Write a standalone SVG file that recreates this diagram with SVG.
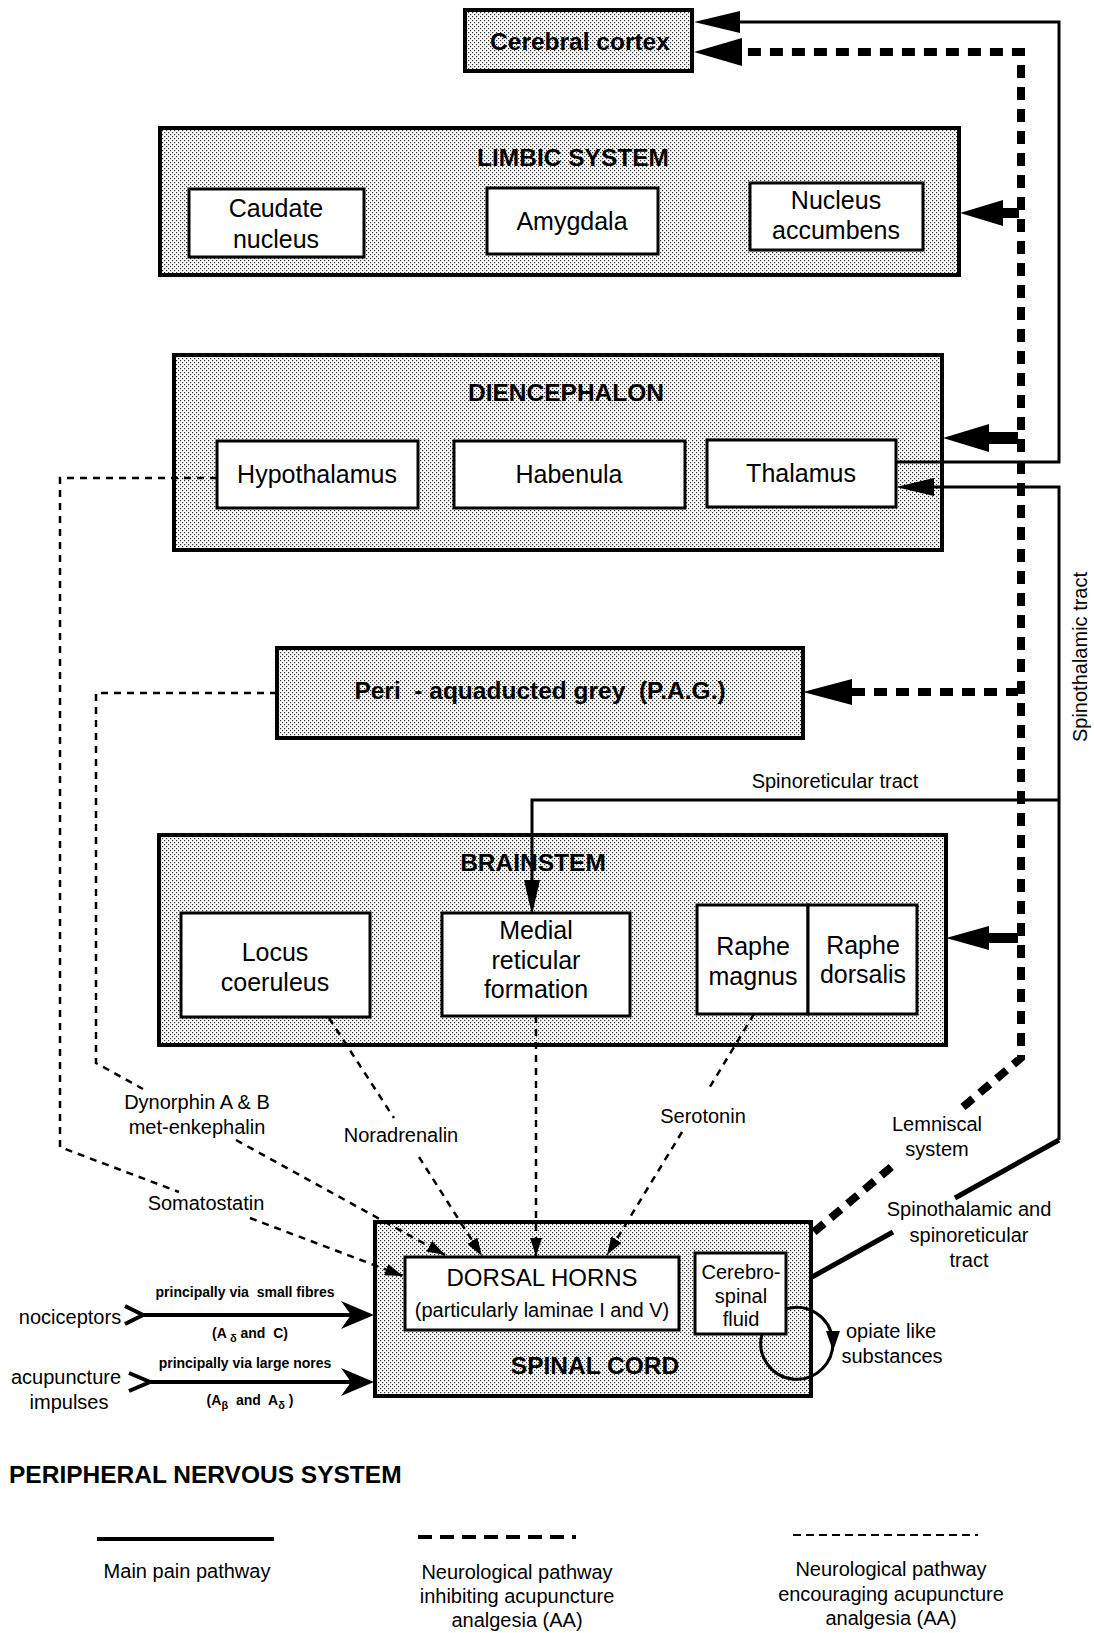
<svg xmlns="http://www.w3.org/2000/svg" width="1094" height="1633" viewBox="0 0 1094 1633">
<defs>
<pattern id="dots" width="4" height="4" patternUnits="userSpaceOnUse">
<rect width="4" height="4" fill="#fcfcfc"/>
<rect x="0" y="0" width="1.2" height="1.2" fill="#333"/>
<rect x="2" y="2" width="1.2" height="1.2" fill="#333"/>
</pattern>
<marker id="ar" viewBox="0 0 18 12" refX="18" refY="6" markerWidth="18" markerHeight="12" markerUnits="userSpaceOnUse" orient="auto">
<path d="M0,0 L18,6 L0,12 Z" fill="#000"/>
</marker>
</defs>
<style>
text{font-family:"Liberation Sans",Arial,Helvetica,sans-serif;fill:#000}
.ttl{font-weight:bold;font-size:24.5px;text-anchor:middle}
.lbl{font-size:25px;text-anchor:middle}
.sm{font-size:20px;text-anchor:middle}
.tiny{font-size:14px;font-weight:bold;text-anchor:middle}
.shade{fill:url(#dots);stroke:#000;stroke-width:4}
.inner{fill:#fff;stroke:#000;stroke-width:3}
.main{fill:none;stroke:#000;stroke-width:3}
.mainb{fill:none;stroke:#000;stroke-width:5}
.inh{fill:none;stroke:#000;stroke-width:8;stroke-dasharray:13 9}
.enc{fill:none;stroke:#000;stroke-width:2.5;stroke-dasharray:7 6}
.ah{fill:#000;stroke:none}
.nerve{fill:none;stroke:#000;stroke-width:4}
</style>
<rect width="1094" height="1633" fill="#fff"/>

<g id="cerebral-cortex">
<rect class="shade" x="465" y="10" width="227" height="61"/>
<text class="ttl" x="580" y="50">Cerebral cortex</text>
</g>

<g id="limbic-system">
<rect class="shade" x="160" y="128" width="799" height="147"/>
<text class="ttl" x="573" y="166">LIMBIC SYSTEM</text>
</g>
<g id="caudate-nucleus">
<rect class="inner" x="189" y="189" width="175" height="68"/>
<text class="lbl" x="276" y="217">Caudate</text>
<text class="lbl" x="276" y="248">nucleus</text>
</g>
<g id="amygdala">
<rect class="inner" x="487" y="188" width="171" height="66"/>
<text class="lbl" x="572" y="230">Amygdala</text>
</g>
<g id="nucleus-accumbens">
<rect class="inner" x="750" y="183" width="173" height="67"/>
<text class="lbl" x="836" y="209">Nucleus</text>
<text class="lbl" x="836" y="239">accumbens</text>
</g>

<g id="diencephalon">
<rect class="shade" x="174" y="355" width="768" height="195"/>
<text class="ttl" x="566" y="401">DIENCEPHALON</text>
</g>
<g id="hypothalamus">
<rect class="inner" x="217" y="441" width="201" height="67"/>
<text class="lbl" x="317" y="483">Hypothalamus</text>
</g>
<g id="habenula">
<rect class="inner" x="454" y="441" width="231" height="67"/>
<text class="lbl" x="569" y="483">Habenula</text>
</g>
<g id="thalamus">
<rect class="inner" x="707" y="440" width="189" height="67"/>
<text class="lbl" x="801" y="482">Thalamus</text>
</g>

<g id="pag">
<rect class="shade" x="277" y="648" width="526" height="90"/>
<text class="ttl" x="540" y="699" xml:space="preserve">Peri  - aquaducted grey  (P.A.G.)</text>
</g>

<g id="brainstem">
<rect class="shade" x="159" y="835" width="787" height="210"/>
<text class="ttl" x="533" y="871">BRAINSTEM</text>
</g>
<g id="locus-coeruleus">
<rect class="inner" x="181" y="913" width="189" height="104"/>
<text class="lbl" x="275" y="961">Locus</text>
<text class="lbl" x="275" y="991">coeruleus</text>
</g>
<g id="medial-reticular-formation">
<rect class="inner" x="442" y="913" width="188" height="103"/>
<text class="lbl" x="536" y="939">Medial</text>
<text class="lbl" x="536" y="969">reticular</text>
<text class="lbl" x="536" y="998">formation</text>
</g>
<g id="raphe-magnus">
<rect class="inner" x="697" y="905" width="111" height="109"/>
<text class="lbl" x="753" y="955">Raphe</text>
<text class="lbl" x="753" y="985">magnus</text>
</g>
<g id="raphe-dorsalis">
<rect class="inner" x="808" y="905" width="109" height="109"/>
<text class="lbl" x="863" y="954">Raphe</text>
<text class="lbl" x="863" y="983">dorsalis</text>
</g>

<g id="spinal-cord">
<rect class="shade" x="375" y="1222" width="436" height="174"/>
<text class="ttl" x="595" y="1374">SPINAL CORD</text>
</g>
<g id="dorsal-horns">
<rect class="inner" x="405" y="1257" width="274" height="73"/>
<text x="542" y="1286" style="font-size:24px;text-anchor:middle">DORSAL HORNS</text>
<text class="sm" x="542" y="1317">(particularly laminae I and V)</text>
</g>

<g id="connectors">
<path class="main" d="M896,462 H1059 V22 H738"/>
<polygon class="ah" points="694,22 740,11 740,33"/>
<path class="main" d="M1059,1140 V487 H932"/>
<polygon class="ah" points="896,487 934,478 934,496"/>
<path class="mainb" d="M955,1198 L1059,1140"/>
<path class="mainb" d="M812,1277 L893,1232"/>
<path class="main" d="M1059,800 H532 V882"/>
<polygon class="ah" points="532,915 524,880 540,880"/>
<path class="inh" d="M963,1107 L1021,1058 V52 H742"/>
<path class="inh" d="M814,1232 L896,1163"/>
<polygon class="ah" points="694,52 742,38 742,66"/>
<polygon class="ah" points="960,213 1003,200 1003,226"/>
<rect class="ah" x="1002" y="208" width="17" height="10"/>
<polygon class="ah" points="943,438 989,424 989,452"/>
<rect class="ah" x="988" y="432" width="30" height="12"/>
<path class="inh" d="M852,692 H1018"/>
<polygon class="ah" points="803,692 852,679 852,705"/>
<polygon class="ah" points="946,938 989,926 989,950"/>
<rect class="ah" x="988" y="933" width="30" height="10"/>
<path class="enc" d="M217,478 H60 V1147 L179,1192"/>
<path class="enc" d="M250,1218 L403,1276" marker-end="url(#ar)"/>
<path class="enc" d="M277,693 H96 V1063 L143,1089"/>
<path class="enc" d="M236,1140 L445,1255" marker-end="url(#ar)"/>
<path class="enc" d="M329,1018 L394,1118"/>
<path class="enc" d="M419,1157 L482,1256" marker-end="url(#ar)"/>
<path class="enc" d="M536,1016 V1256" marker-end="url(#ar)"/>
<path class="enc" d="M754,1014 L708,1090"/>
<path class="enc" d="M682,1132 L607,1255" marker-end="url(#ar)"/>
<polyline class="nerve" points="125,1306 143,1315 125,1324"/>
<path class="nerve" d="M141,1315 H362"/>
<path class="ah" d="M374,1315 L341,1301 L351,1315 L341,1329 Z"/>
<polyline class="nerve" points="129,1373 150,1382 129,1391"/>
<path class="nerve" d="M148,1382 H362"/>
<path class="ah" d="M374,1382 L341,1368 L351,1382 L341,1396 Z"/>
<path class="main" d="M786,1309 A36,36 0 1,1 762,1334"/>
<polygon class="ah" points="826,1331 840,1331 833,1351"/>
</g>

<g id="csf">
<rect class="inner" x="695" y="1253" width="91" height="81"/>
<text class="sm" x="741" y="1279">Cerebro-</text>
<text class="sm" x="741" y="1303">spinal</text>
<text class="sm" x="741" y="1326">fluid</text>
</g>

<g id="connector-labels">
<text class="sm" x="835" y="788">Spinoreticular tract</text>
<text class="sm" transform="rotate(-90 1087 657)" x="1087" y="657">Spinothalamic tract</text>
<text class="sm" x="197" y="1109">Dynorphin A &amp; B</text>
<text class="sm" x="197" y="1134">met-enkephalin</text>
<text class="sm" x="401" y="1142">Noradrenalin</text>
<text class="sm" x="703" y="1123">Serotonin</text>
<text class="sm" x="937" y="1131">Lemniscal</text>
<text class="sm" x="937" y="1156">system</text>
<text class="sm" x="206" y="1210">Somatostatin</text>
<text class="sm" x="969" y="1216">Spinothalamic and</text>
<text class="sm" x="969" y="1242">spinoreticular</text>
<text class="sm" x="969" y="1267">tract</text>
<text class="sm" x="891" y="1338">opiate like</text>
<text class="sm" x="892" y="1363">substances</text>
<text class="sm" x="70" y="1324">nociceptors</text>
<text class="sm" x="66" y="1384">acupuncture</text>
<text class="sm" x="69" y="1409">impulses</text>
<text class="tiny" x="245" y="1297" xml:space="preserve">principally via  small fibres</text>
<text class="tiny" x="250" y="1338" xml:space="preserve">(A<tspan dy="4" font-size="11"> δ</tspan><tspan dy="-4"> and  C)</tspan></text>
<text class="tiny" x="245" y="1368">principally via large nores</text>
<text class="tiny" x="250" y="1405" xml:space="preserve">(A<tspan dy="4" font-size="11">β</tspan><tspan dy="-4">  and  A</tspan><tspan dy="4" font-size="11">δ</tspan><tspan dy="-4"> )</tspan></text>
</g>

<g id="legend">
<text x="9" y="1483" style="font-size:24.5px;font-weight:bold">PERIPHERAL NERVOUS SYSTEM</text>
<path d="M97,1539 H274" fill="none" stroke="#000" stroke-width="4"/>
<path d="M418,1537 H576" fill="none" stroke="#000" stroke-width="4" stroke-dasharray="14 8"/>
<path d="M793,1535 H978" fill="none" stroke="#000" stroke-width="2" stroke-dasharray="8 5"/>
<text class="sm" x="187" y="1578">Main pain pathway</text>
<text class="sm" x="517" y="1579">Neurological pathway</text>
<text class="sm" x="517" y="1603">inhibiting acupuncture</text>
<text class="sm" x="517" y="1627">analgesia (AA)</text>
<text class="sm" x="891" y="1576">Neurological pathway</text>
<text class="sm" x="891" y="1601">encouraging acupuncture</text>
<text class="sm" x="891" y="1625">analgesia (AA)</text>
</g>
</svg>
